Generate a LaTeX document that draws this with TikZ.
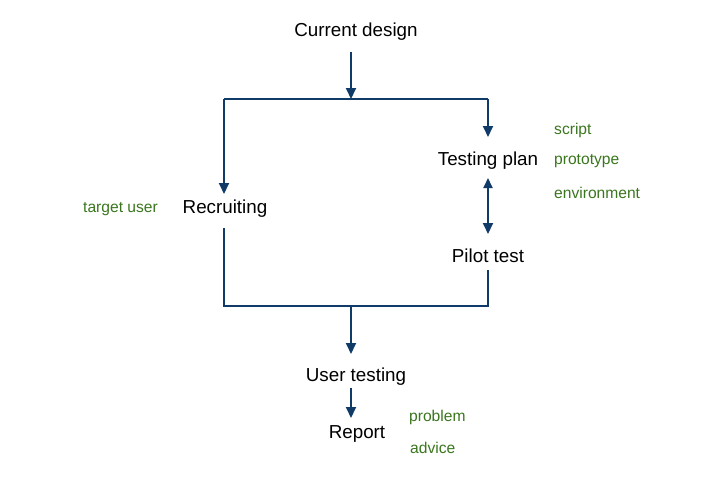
\documentclass[tikz,border=0pt]{standalone}
\usepackage{fontspec}
\setmainfont{Liberation Sans}
\usetikzlibrary{arrows.meta,calc}
\definecolor{lineblue}{RGB}{16,58,104}
\definecolor{notegreen}{RGB}{58,118,30}
\tikzset{
  stage/.style={inner sep=0pt, font=\fontsize{18.8}{21}\selectfont, text=black},
  note/.style={inner sep=0pt, font=\fontsize{15.6}{17}\selectfont, text=notegreen},
  conn/.style={draw=lineblue, line width=1.9pt},
  arr/.style={conn, -{Triangle[length=11pt,width=10pt]}},
  darr/.style={conn, {Triangle[length=10pt,width=9pt]}-{Triangle[length=11pt,width=10pt]}},
}
\begin{document}
\begin{tikzpicture}[x=1pt,y=-1pt]
\useasboundingbox (0,0) rectangle (720,480);
% stages
\node[stage] (cd) at (356,32) {Current design};
\node[stage] (tp) at (488,161) {Testing plan};
\node[stage] (rc) at (225,209) {Recruiting};
\node[stage] (pt) at (488,256) {Pilot test};
\node[stage] (ut) at (356,377) {User testing};
\node[stage] (rp) at (357,434) {Report};
% notes
\node[note, anchor=west] (n1) at (554,130) {script};
\node[note, anchor=west] (n2) at (554,161) {prototype};
\node[note, anchor=west] (n3) at (554,193) {environment};
\node[note, anchor=east] (n4) at (158,209) {target user};
\node[note, anchor=west] (n5) at (409,417) {problem};
\node[note, anchor=west] (n6) at (410,448) {advice};
% junctions
\coordinate (jt) at (351,99);
\coordinate (jtl) at (224,99);
\coordinate (jtr) at (488,99);
\coordinate (jb) at (351,306);
\coordinate (jbl) at (224,306);
\coordinate (jbr) at (488,306);
% connectors
\draw[arr] ($(cd)+(-5,20)$) -- (jt);
\draw[conn] (jtl) -- (jtr);
\draw[arr] (jtl) -- ($(rc)+(-1,-15)$);
\draw[arr] (jtr) -- ($(tp)+(0,-24)$);
\draw[darr] ($(tp)+(0,17)$) -- ($(pt)+(0,-22)$);
\draw[conn] ($(rc)+(-1,19)$) -- (jbl) -- (jbr) -- ($(pt)+(0,14)$);
\draw[arr] (jb) -- ($(ut)+(-5,-23)$);
\draw[arr] ($(ut)+(-5,11)$) -- ($(rp)+(-6,-16)$);
\end{tikzpicture}
\end{document}
